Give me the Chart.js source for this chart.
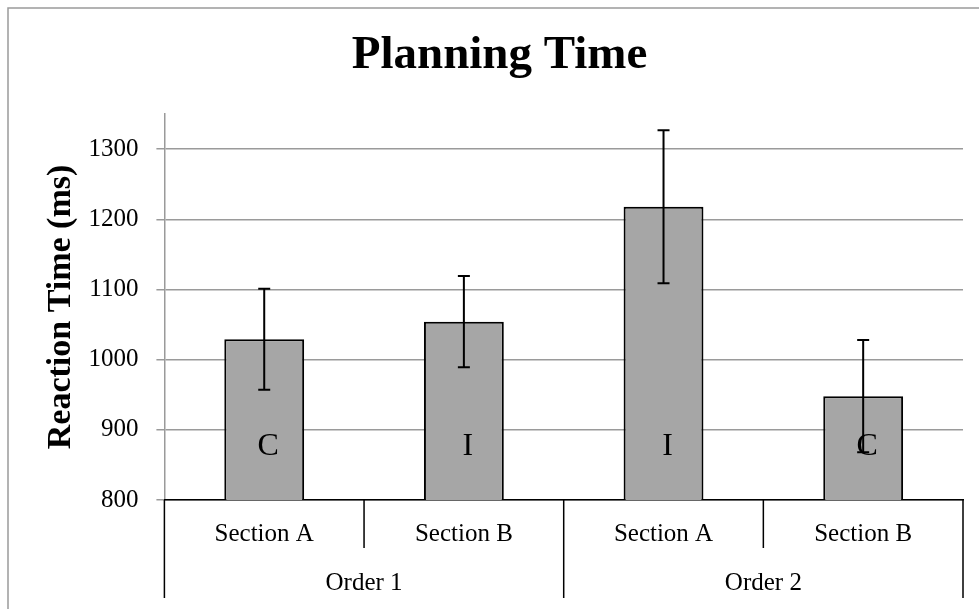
<!DOCTYPE html>
<html lang="en">

<head>
    <meta charset="UTF-8">
    <title>Planning Time</title>
    <script src="https://cdn.jsdelivr.net/npm/chart.js"></script>
    <style>
        body {
            margin: 0;
            background: #fff;
        }
    </style>
</head>

<body>
    <canvas id="myChart" width="979" height="609"></canvas>
    <script>
        const sections = ['Section A', 'Section B', 'Section A', 'Section B'];
        const orders = ['Order 1', 'Order 2'];
        const meanTimes = [1029, 1054, 1218, 948];
        const errorSizes = [72, 65, 109, 80];
        const barLetters = ['C', 'I', 'I', 'C'];
        const yMin = 800;
        const yMax = 1350;
        const yStep = 100;

        const serif = "'Liberation Serif', 'Times New Roman', serif";

        // white page with the grey frame round the chart
        const framePlugin = {
            id: 'frame',
            beforeDraw(chart) {
                const ctx = chart.ctx;
                ctx.save();
                ctx.fillStyle = '#fff';
                ctx.fillRect(0, 0, chart.width, chart.height);
                ctx.strokeStyle = '#9a9a9a';
                ctx.lineWidth = 1.5;
                ctx.strokeRect(8, 8, chart.width + 20, chart.height + 20);
                ctx.restore();
            }
        };

        // letters inside the bars and the error bars on top
        const errorBarPlugin = {
            id: 'errorBars',
            afterDatasetsDraw(chart) {
                const ctx = chart.ctx;
                const y = chart.scales.y;
                const meta = chart.getDatasetMeta(0);
                ctx.save();
                ctx.font = '32px ' + serif;
                ctx.fillStyle = '#000';
                ctx.textAlign = 'center';
                ctx.textBaseline = 'middle';
                meta.data.forEach((bar, i) => {
                    ctx.fillText(barLetters[i], bar.x + 4, y.getPixelForValue(876));
                });
                ctx.strokeStyle = '#000';
                ctx.lineWidth = 2;
                meta.data.forEach((bar, i) => {
                    const top = y.getPixelForValue(meanTimes[i] + errorSizes[i]);
                    const bottom = y.getPixelForValue(meanTimes[i] - errorSizes[i]);
                    ctx.beginPath();
                    ctx.moveTo(bar.x, top);
                    ctx.lineTo(bar.x, bottom);
                    ctx.moveTo(bar.x - 6, top);
                    ctx.lineTo(bar.x + 6, top);
                    ctx.moveTo(bar.x - 6, bottom);
                    ctx.lineTo(bar.x + 6, bottom);
                    ctx.stroke();
                });
                ctx.restore();
            }
        };

        // divider lines of the two-level category axis
        const dividerPlugin = {
            id: 'dividers',
            afterDraw(chart) {
                const ctx = chart.ctx;
                const x = chart.scales.x;
                const x2 = chart.scales.x2;
                const top = chart.chartArea.bottom;
                const half = (x.getPixelForValue(1) - x.getPixelForValue(0)) / 2;
                const groupHalf = (x2.getPixelForValue(1) - x2.getPixelForValue(0)) / 2;
                ctx.save();
                ctx.strokeStyle = '#000';
                ctx.lineWidth = 1.5;
                ctx.beginPath();
                for (let i = 0; i < sections.length - 1; i++) {
                    const px = x.getPixelForValue(i) + half;
                    ctx.moveTo(px, top);
                    ctx.lineTo(px, top + 48);
                }
                orders.forEach((o, j) => {
                    const c = x2.getPixelForValue(j);
                    ctx.moveTo(c - groupHalf, top);
                    ctx.lineTo(c - groupHalf, x2.bottom);
                    ctx.moveTo(c + groupHalf, top);
                    ctx.lineTo(c + groupHalf, x2.bottom);
                });
                ctx.stroke();
                ctx.restore();
            }
        };

        new Chart(document.getElementById('myChart'), {
            type: 'bar',
            data: {
                labels: sections,
                datasets: [{
                    data: meanTimes,
                    backgroundColor: '#a6a6a6',
                    borderColor: '#000',
                    borderWidth: 2,
                    borderSkipped: false,
                    barPercentage: 0.4,
                    categoryPercentage: 1
                }]
            },
            options: {
                responsive: false,
                animation: false,
                layout: {
                    padding: { left: 36, right: 16, top: 6, bottom: 11 }
                },
                plugins: {
                    legend: { display: false },
                    tooltip: { enabled: false },
                    title: {
                        display: true,
                        text: 'Planning Time',
                        color: '#000',
                        font: { family: serif, size: 47, weight: 'bold' },
                        padding: { top: 22, bottom: 29.6 }
                    }
                },
                scales: {
                    y: {
                        min: yMin,
                        max: yMax,
                        afterBuildTicks: (scale) => {
                            scale.ticks = scale.ticks.filter(t => t.value % yStep === 0);
                        },
                        ticks: {
                            stepSize: yStep,
                            color: '#000',
                            padding: 18,
                            font: { family: serif, size: 25 },
                            callback: (value) => String(value)
                        },
                        grid: {
                            color: '#9a9a9a',
                            lineWidth: 1.5,
                            tickLength: 8
                        },
                        border: { color: '#9a9a9a', width: 1.5 },
                        title: {
                            display: true,
                            text: 'Reaction Time (ms)',
                            color: '#000',
                            font: { family: serif, size: 34, weight: 'bold' },
                            padding: { top: 5, bottom: -11.4 }
                        }
                    },
                    x: {
                        position: 'bottom',
                        weight: 0,
                        ticks: {
                            color: '#000',
                            padding: 19,
                            font: { family: serif, size: 25 }
                        },
                        grid: {
                            drawOnChartArea: false,
                            drawTicks: false
                        },
                        border: { color: '#000', width: 1.5 }
                    },
                    x2: {
                        type: 'category',
                        labels: orders,
                        position: 'bottom',
                        weight: 1,
                        ticks: {
                            color: '#000',
                            padding: 0,
                            font: { family: serif, size: 25 }
                        },
                        grid: {
                            display: false,
                            drawTicks: false
                        },
                        border: { display: false }
                    }
                }
            },
            plugins: [framePlugin, errorBarPlugin, dividerPlugin]
        });
    </script>
</body>

</html>
